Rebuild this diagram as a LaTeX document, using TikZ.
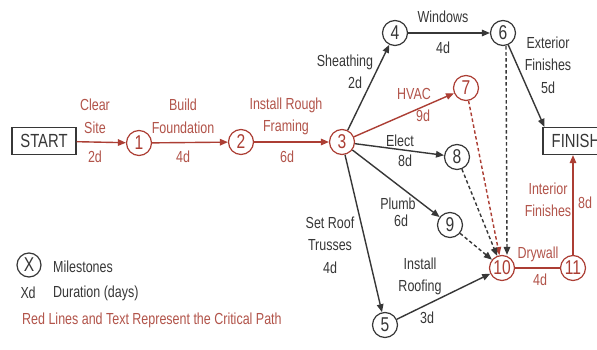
\documentclass[tikz,border=0pt]{standalone}
\usepackage{fontspec}
\setmainfont[FakeStretch=0.78]{Liberation Sans}
\usetikzlibrary{arrows.meta}
\definecolor{critred}{RGB}{172,62,52}
\definecolor{crittext}{RGB}{178,84,74}
\definecolor{ink}{RGB}{55,55,55}

\begin{document}
\begin{tikzpicture}[x=1pt,y=-1pt,
  font=\fontsize{16}{22.5}\selectfont,
  milestone/.style={circle,draw=ink,line width=1.2pt,minimum size=25pt,inner sep=0pt,
    text=ink,font=\fontsize{20}{20}\selectfont},
  critms/.style={milestone,draw=critred,text=critred},
  endbox/.style={draw=ink,line width=1.2pt,minimum height=27pt,inner sep=0pt,
    text=ink,font=\fontsize{19}{19}\selectfont},
  lbl/.style={text=ink,align=center,inner sep=0pt},
  critlbl/.style={lbl,text=crittext},
  act/.style={draw=ink,line width=1.4pt,-{Triangle[length=8pt,width=6.5pt]}},
  critact/.style={act,draw=critred,-{Triangle[length=8pt,width=6.5pt,fill=critred]}},
  dep/.style={act,dash pattern=on 3.5pt off 2.5pt},
  critdep/.style={critact,dash pattern=on 3.5pt off 2.5pt}]

\clip (0,0) rectangle (597,350);
\fill[white] (0,0) rectangle (597,350);

% start / finish boxes
\node[endbox,minimum width=64pt] (start) at (44,141) {START};
\node[endbox,minimum width=66pt] (fin) at (576,141) {FINISH};

% milestones
\node[critms] (n1) at (139,143) {1};
\node[critms] (n2) at (241,142) {2};
\node[critms] (n3) at (342,142) {3};
\node[milestone] (n4) at (395,33) {4};
\node[milestone] (n6) at (503,33) {6};
\node[critms] (n7) at (466,88) {7};
\node[milestone] (n8) at (457,157) {8};
\node[milestone] (n9) at (450,225) {9};
\node[critms] (n10) at (502,268) {10};
\node[critms] (n11) at (573,268) {11};
\node[milestone] (n5) at (385,325) {5};

% critical path
\draw[critact] (start) -- (n1);
\draw[critact] (n1) -- (n2);
\draw[critact] (n2) -- (n3);
\draw[critact] (n3) -- (n7);
\draw[critdep] (n7) -- (n10);
\draw[critred,line width=1.4pt] (n10) -- (n11);
\draw[critact] (n11) -- (n11 |- fin.south);

% other activities
\draw[act] (n3) -- (n4);
\draw[act] (n4) -- (n6);
\draw[act] (n6) -- ([xshift=2pt]fin.north west);
\draw[act] (n3) -- (n8);
\draw[act] (n3) -- (n9);
\draw[act] (n3) -- (n5);
\draw[act] (n5) -- (n10);

% dummy dependencies
\draw[dep] ([xshift=3pt]n6.south) -- ([xshift=5pt]n10.north);
\draw[dep] (n8) -- (n10);
\draw[dep] (n9) -- (n10);

% activity labels
\node[critlbl] (lclear) at (95,116.5) {Clear\\Site};
\node[critlbl] (dclear) at (95,157) {2d};
\node[critlbl] (lfound) at (183,116.5) {Build\\Foundation};
\node[critlbl] (dfound) at (183,157) {4d};
\node[critlbl] (lframe) at (286,116.5) {Install Rough\\Framing};
\node[critlbl] (dframe) at (287,157) {6d};
\node[lbl] (lsheath) at (345,62) {Sheathing};
\node[lbl] (dsheath) at (355,83) {2d};
\node[lbl] (lwin) at (443,17) {Windows};
\node[lbl] (dwin) at (443,48) {4d};
\node[lbl] (lext) at (548,65) {Exterior\\Finishes\\5d};
\node[critlbl] (lhvac) at (414,94) {HVAC};
\node[critlbl] (dhvac) at (423,116) {9d};
\node[lbl] (lelect) at (400,141) {Elect};
\node[lbl] (delect) at (405,161) {8d};
\node[lbl] (lplumb) at (398,204) {Plumb};
\node[lbl] (dplumb) at (401,221) {6d};
\node[lbl] (ltruss) at (330,245) {Set Roof\\Trusses\\4d};
\node[lbl] (lroof) at (420,276.5) {Install\\Roofing};
\node[lbl] (droof) at (427,318) {3d};
\node[critlbl] (ldry) at (538,254) {Drywall};
\node[critlbl] (ddry) at (540,280) {4d};
\node[critlbl] (lint) at (548,200) {Interior\\Finishes};
\node[critlbl] (dint) at (585,203) {8d};

% legend
\node[milestone,minimum size=24pt] (key) at (29,265) {X};
\node[lbl,anchor=west] (keyms) at (53,267) {Milestones};
\node[lbl] (keyd) at (28,293) {X\kern-0.3pt d};
\node[lbl,anchor=west] (keydur) at (53,293) {Duration (days)};
\node[critlbl,anchor=west] (keycrit) at (22,320) {Red Lines and Text Represent the Critical Path};
\end{tikzpicture}
\end{document}
